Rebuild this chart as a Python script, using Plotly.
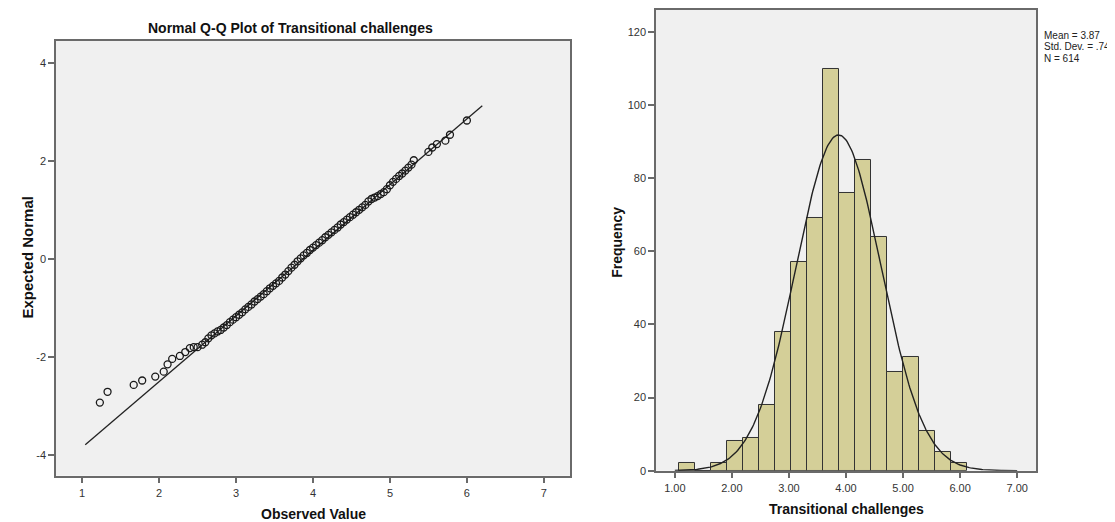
import numpy as np
import plotly.graph_objects as go

W, H = 1115, 522

# ---------------- data ----------------
QQ_OBSERVED = [
    1.23, 1.33, 1.67, 1.78, 1.95, 2.06, 2.11, 2.17, 2.27, 2.34, 2.40, 2.45, 2.50, 2.56,
    2.60, 2.64, 2.68, 2.72, 2.76, 2.80, 2.84, 2.88, 2.92, 2.96, 3.00, 3.04, 3.08, 3.12,
    3.16, 3.20, 3.24, 3.28, 3.32, 3.36, 3.40, 3.44, 3.48, 3.52, 3.56, 3.60, 3.64, 3.68,
    3.72, 3.76, 3.80, 3.84, 3.88, 3.92, 3.96, 4.00, 4.04, 4.08, 4.12, 4.16, 4.20, 4.24,
    4.28, 4.32, 4.36, 4.40, 4.44, 4.48, 4.52, 4.56, 4.60, 4.64, 4.68, 4.72, 4.76, 4.80,
    4.84, 4.88, 4.92, 4.96, 5.00, 5.04, 5.08, 5.12, 5.16, 5.20, 5.24, 5.28, 5.31,
    5.50, 5.55, 5.61, 5.72, 5.78, 6.00,
]
QQ_EXPECTED = [
    -2.93, -2.71, -2.57, -2.48, -2.40, -2.30, -2.15, -2.04, -1.98, -1.90, -1.82, -1.80, -1.80, -1.75,
    -1.70, -1.62, -1.56, -1.52, -1.48, -1.45, -1.40, -1.35, -1.29, -1.24, -1.19, -1.14, -1.09, -1.03,
    -0.98, -0.93, -0.87, -0.82, -0.77, -0.72, -0.66, -0.60, -0.55, -0.50, -0.45, -0.38, -0.32, -0.25,
    -0.18, -0.12, -0.05, 0.01, 0.07, 0.12, 0.18, 0.23, 0.28, 0.33, 0.38, 0.44, 0.49, 0.54,
    0.59, 0.64, 0.70, 0.75, 0.80, 0.85, 0.90, 0.95, 1.00, 1.05, 1.10, 1.17, 1.22, 1.25,
    1.28, 1.32, 1.36, 1.42, 1.50, 1.57, 1.63, 1.69, 1.74, 1.80, 1.86, 1.92, 2.01,
    2.18, 2.27, 2.34, 2.41, 2.53, 2.82,
]

# summary statistics
MEAN = 3.87
SD = 0.747
N = 614
QQ_LINE_X = [1.04, 6.20]      # extent of the reference line

# histogram of Transitional challenges
HIST_BIN_LEFT = [1.08, 1.36, 1.64, 1.92, 2.20, 2.48, 2.76, 3.04, 3.32, 3.60,
                 3.88, 4.16, 4.44, 4.72, 5.00, 5.28, 5.56, 5.84]
BIN_WIDTH = 0.28
HIST_COUNTS = [2, 0, 2, 8, 9, 18, 38, 57, 69, 110, 76, 85, 64, 27, 31, 11, 5, 2]
CURVE_X_RANGE = [1.0, 7.0]

QQ_X_TICKS = [1, 2, 3, 4, 5, 6, 7]
QQ_Y_TICKS = [-4, -2, 0, 2, 4]
QQ_Y_LABELS = ["-4", "-2", "0", "2", "4"]
HIST_X_TICKS = [1, 2, 3, 4, 5, 6, 7]
HIST_X_LABELS = ["1.00", "2.00", "3.00", "4.00", "5.00", "6.00", "7.00"]
HIST_Y_TICKS = [0, 20, 40, 60, 80, 100, 120]
STATS_TEXT = ["Mean = 3.87", "Std. Dev. = .747", "N = 614"]

TITLE = "Normal Q-Q Plot of Transitional challenges"

# ---------------- figure ----------------
SANS = "Liberation Sans, Arial, sans-serif"
FRAME = "#6a6a6a"

fig = go.Figure()

# Q-Q reference line
line_y = [(x - MEAN) / SD for x in QQ_LINE_X]
fig.add_trace(go.Scatter(x=QQ_LINE_X, y=line_y, mode="lines",
                         line=dict(color="#222222", width=1.3),
                         xaxis="x", yaxis="y", showlegend=False, hoverinfo="skip"))
# Q-Q points
fig.add_trace(go.Scatter(x=QQ_OBSERVED, y=QQ_EXPECTED, mode="markers",
                         marker=dict(symbol="circle-open", size=7,
                                     color="#1a1a1a", line=dict(width=1.3, color="#1a1a1a")),
                         xaxis="x", yaxis="y", showlegend=False))

# histogram bars
centers = [b + BIN_WIDTH / 2 for b in HIST_BIN_LEFT]
fig.add_trace(go.Bar(x=centers, y=HIST_COUNTS, width=BIN_WIDTH,
                     marker=dict(color="#d4cf98", line=dict(color="#333333", width=1)),
                     xaxis="x2", yaxis="y2", showlegend=False))

# fitted normal curve
cx = np.linspace(CURVE_X_RANGE[0], CURVE_X_RANGE[1], 301)
cy = N * BIN_WIDTH / (SD * np.sqrt(2 * np.pi)) * np.exp(-0.5 * ((cx - MEAN) / SD) ** 2)
fig.add_trace(go.Scatter(x=cx, y=cy, mode="lines",
                         line=dict(color="#222222", width=1.4),
                         xaxis="x2", yaxis="y2", showlegend=False, hoverinfo="skip"))

axis_common = dict(showgrid=False, zeroline=False, showline=True, mirror=True,
                   linecolor=FRAME, linewidth=1.5, ticks="outside", ticklen=6,
                   tickcolor=FRAME, tickwidth=1.5,
                   tickfont=dict(family=SANS, size=11, color="#333333"))

fig.update_layout(
    width=W, height=H,
    margin=dict(l=0, r=0, t=0, b=0),
    paper_bgcolor="white",
    plot_bgcolor="#f0f0f0",
    bargap=0,
    xaxis=dict(domain=[48 / W, 562 / W], range=[0.66, 7.34], tickvals=QQ_X_TICKS,
               anchor="y", **axis_common),
    yaxis=dict(domain=[1 - 473 / H, 1 - 32 / H], range=[-4.42, 4.45], tickvals=QQ_Y_TICKS,
               ticktext=QQ_Y_LABELS, anchor="x", **axis_common),
    xaxis2=dict(domain=[648 / W, 1028 / W], range=[0.67, 7.33], tickvals=HIST_X_TICKS,
                ticktext=HIST_X_LABELS, anchor="y2", **axis_common),
    yaxis2=dict(domain=[1 - 468 / H, 1 - 1 / H], range=[0, 126], tickvals=HIST_Y_TICKS,
                anchor="x2", **axis_common),
)

def ann(text, px, py, size, bold=False, angle=0, xanchor="center", family=SANS):
    fig.add_annotation(text=f"<b>{text}</b>" if bold else text,
                       x=px / W, y=1 - py / H, xref="paper", yref="paper",
                       showarrow=False, textangle=angle, xanchor=xanchor, yanchor="middle",
                       font=dict(family=family, size=size, color="#111111"))

ann(TITLE, 282, 19, 14, bold=True)
ann("Observed Value", 305, 512, 14, bold=True)
ann("Expected Normal", 20, 252, 15, bold=True, angle=-90)
ann("Transitional challenges", 838, 507, 14, bold=True)
ann("Frequency", 609, 237, 14, bold=True, angle=-90)

for i, t in enumerate(STATS_TEXT):
    fig.add_annotation(text=t, x=1034 / W, y=1 - (27 + 11.5 * i) / H, xref="paper", yref="paper",
                       showarrow=False, xanchor="left", yanchor="middle",
                       font=dict(family=SANS, size=10, color="#222222"))

fig.write_html("out.html")
